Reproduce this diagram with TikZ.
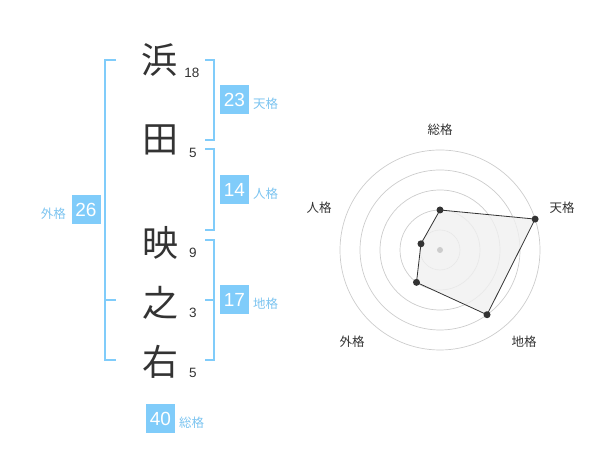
\documentclass[tikz,border=0pt]{standalone}
\usepackage{fontspec}
\usetikzlibrary{calc}
\setmainfont{Liberation Sans}
\newfontfamily\cjk{Noto Sans CJK JP}
\definecolor{boxblue}{HTML}{80CCFA}
\definecolor{lblblue}{HTML}{7CC4F0}
\definecolor{ink}{HTML}{333333}
\definecolor{ring}{HTML}{CCCCCC}
\definecolor{polyfill}{HTML}{F0F0F0}
\tikzset{
  kanji/.style={font=\cjk\fontsize{36}{36}\selectfont, text=ink, inner sep=0pt},
  stroke/.style={font=\fontsize{13.5}{14}\selectfont, text=ink, inner sep=0pt},
  valbox/.style={fill=boxblue, text=white, minimum width=29pt, minimum height=29pt, inner sep=0pt, font=\fontsize{19}{19}\selectfont},
  lbl/.style={font=\cjk\fontsize{12.5}{13}\selectfont, text=lblblue, inner sep=0pt},
  brk/.style={draw=boxblue, line width=2pt},
  rlbl/.style={font=\cjk\fontsize{12.5}{13}\selectfont, text=ink, inner sep=0pt},
  vdot/.style={circle, fill=ink, inner sep=0pt, minimum size=7pt},
}
\begin{document}
\begin{tikzpicture}[x=1pt,y=1pt]
\useasboundingbox (0,0) rectangle (600,470);
% characters
\node[kanji] (c1) at (159,410) {浜};
\node[kanji] (c2) at (160,330) {田};
\node[kanji] (c3) at (160,227) {映};
\node[kanji] (c4) at (160,167) {之};
\node[kanji] (c5) at (160,108) {右};
% stroke counts
\node[stroke] (s1) at (192,397) {18};
\node[stroke] (s2) at (193,317) {5};
\node[stroke] (s3) at (193,217) {9};
\node[stroke] (s4) at (193,157) {3};
\node[stroke] (s5) at (193,97) {5};
% brackets
\draw[brk] (116,410) -- (105,410) -- (105,110) -- (116,110);
\draw[brk] (105,170) -- (116,170);
\draw[brk] (205,410) -- (214,410) -- (214,330) -- (205,330);
\draw[brk] (205,321) -- (214,321) -- (214,240) -- (205,240);
\draw[brk] (205,230) -- (214,230) -- (214,110) -- (205,110);
\draw[brk] (205,170) -- (214,170);
% value boxes
\node[valbox] (b23) at (234.5,370) {23};
\node[lbl, anchor=west] (l23) at (253,366) {天格};
\node[valbox] (b14) at (234.5,280) {14};
\node[lbl, anchor=west] (l14) at (253,276) {人格};
\node[valbox] (b26) at (86,260) {26};
\node[lbl, anchor=east] (l26) at (66,256) {外格};
\node[valbox] (b17) at (234.5,170) {17};
\node[lbl, anchor=west] (l17) at (253,166) {地格};
\node[valbox] (b40) at (160.5,51) {40};
\node[lbl, anchor=west] (l40) at (179,47) {総格};
% radar
\coordinate (O) at (440,220);
\foreach \r in {20,40,60,80,100} \draw[ring, line width=0.7pt] (O) circle (\r);
\node[rlbl] (r1) at (440,340) {総格};
\node[rlbl] (r2) at (562,262) {天格};
\node[rlbl] (r3) at (524,128) {地格};
\node[rlbl] (r4) at (352,128) {外格};
\node[rlbl] (r5) at (319,262) {人格};
\coordinate (p1) at ($(O)+(90:40)$);
\coordinate (p2) at ($(O)+(18:100)$);
\coordinate (p3) at ($(O)+(-54:80)$);
\coordinate (p4) at ($(O)+(-126:40)$);
\coordinate (p5) at ($(O)+(162:20)$);
\fill[polyfill, fill opacity=0.8] (p1) -- (p2) -- (p3) -- (p4) -- (p5) -- cycle;
\draw[ink, line width=0.8pt] (p1) -- (p2) -- (p3) -- (p4) -- (p5) -- cycle;
\node[circle, fill=ring, inner sep=0pt, minimum size=6pt] (ctr) at (O) {};
\foreach \p in {p1,p2,p3,p4,p5} \node[vdot] at (\p) {};
\end{tikzpicture}
\end{document}
